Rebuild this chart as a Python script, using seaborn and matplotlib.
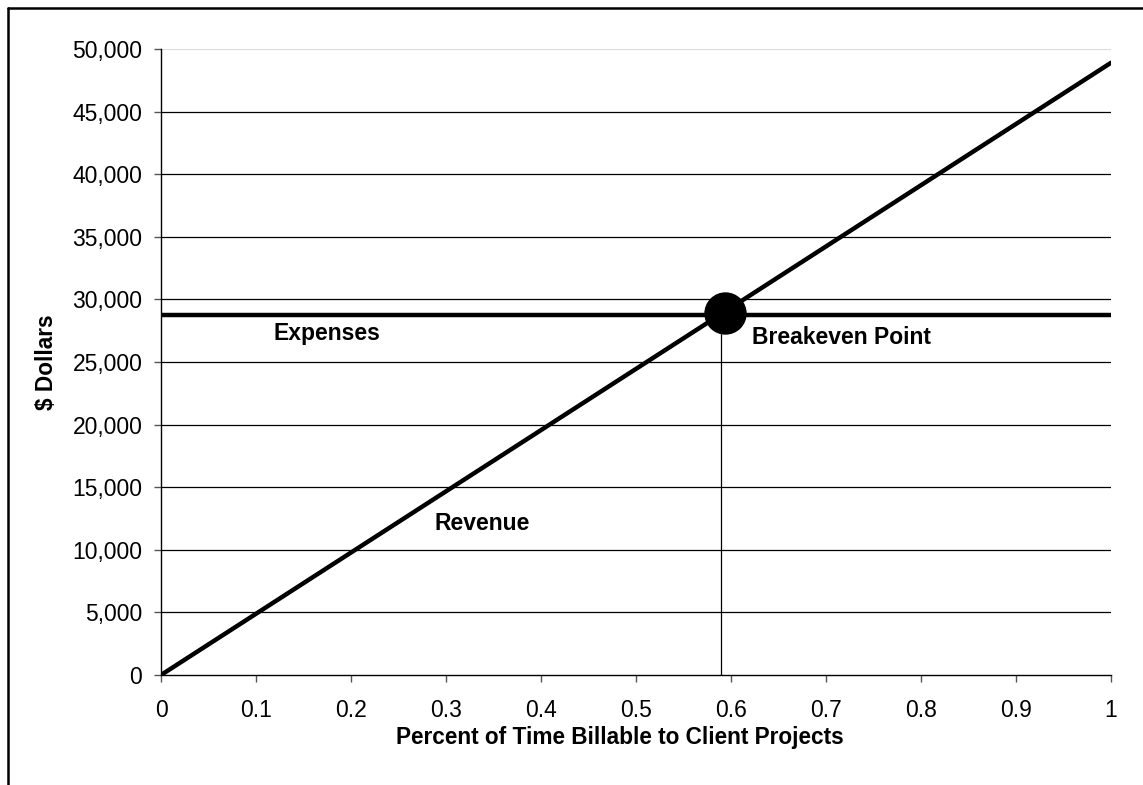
import matplotlib
matplotlib.use("Agg")
import matplotlib.pyplot as plt
import seaborn as sns
import numpy as np
import pandas as pd
from matplotlib.lines import Line2D
from matplotlib.ticker import FuncFormatter

# Data
pct_billable = [0.0, 1.0]
revenue = [0.0, 48900.0]
expenses_level = 28750.0
breakeven_x = 0.594
breakeven_y = 28900.0
dropline_x = 0.589
x_ticks = [0, 0.1, 0.2, 0.3, 0.4, 0.5, 0.6, 0.7, 0.8, 0.9, 1]
x_tick_labels = ["0", "0.1", "0.2", "0.3", "0.4", "0.5", "0.6", "0.7", "0.8", "0.9", "1"]
y_ticks = list(range(0, 50001, 5000))

sns.set_theme(style="white")
plt.rcParams['font.family'] = ['Liberation Sans', 'DejaVu Sans']
plt.rcParams['text.color'] = 'black'
plt.rcParams['axes.labelcolor'] = 'black'

fig = plt.figure(figsize=(11.43, 7.85), dpi=100)
ax = fig.add_axes([161/1143, 1-675/785, (1111-161)/1143, (675-49)/785])

# gridlines
for yv in y_ticks[1:]:
    ax.axhline(yv, color="#dddddd" if yv == 50000 else "black", lw=0.9, zorder=1)

df_rev = pd.DataFrame({"x": pct_billable, "y": revenue})
df_exp = pd.DataFrame({"x": pct_billable, "y": [expenses_level, expenses_level]})
sns.lineplot(data=df_rev, x="x", y="y", ax=ax, color="black", lw=3.2, zorder=3)
sns.lineplot(data=df_exp, x="x", y="y", ax=ax, color="black", lw=3.2, zorder=3)

# vertical drop line and breakeven marker
ax.plot([dropline_x, dropline_x], [0, breakeven_y], color="black", lw=0.9, zorder=2)
ax.plot([breakeven_x], [breakeven_y], marker="o", ms=29.5, color="black", zorder=4)

ax.set_xlim(0, 1)
ax.set_ylim(0, 50000)
ax.set_xticks(x_ticks)
ax.set_xticklabels(x_tick_labels)
ax.set_yticks(y_ticks)
ax.yaxis.set_major_formatter(FuncFormatter(lambda v, p: f"{int(v):,}"))
ax.tick_params(axis="both", which="major", length=5, width=1, color="#555555",
               direction="out", labelsize=16.5, labelcolor="black",
               bottom=True, left=True)
ax.tick_params(axis="x", pad=12.5)
ax.tick_params(axis="y", pad=8.5)
for s in ["top", "right"]:
    ax.spines[s].set_visible(False)
for s in ["left", "bottom"]:
    ax.spines[s].set_color("black")
    ax.spines[s].set_linewidth(1)

ax.set_xlabel("Percent of Time Billable to Client Projects", fontsize=16.3, fontweight="bold")
ax.xaxis.set_label_coords(0.483, -0.082)
ax.set_ylabel("$ Dollars", fontsize=16.3, fontweight="bold", labelpad=10)

ax.text(0.175, 27316, "Expenses", fontsize=16.5, fontweight="bold", ha="center", va="center")
ax.text(0.338, 12140, "Revenue", fontsize=16.5, fontweight="bold", ha="center", va="center")
ax.text(0.716, 26917, "Breakeven Point", fontsize=16.5, fontweight="bold", ha="center", va="center")

# figure frame (top and left edges)
fig.add_artist(Line2D([8/1143, 1], [1-8/785, 1-8/785], color="black", lw=1.8, transform=fig.transFigure))
fig.add_artist(Line2D([8/1143, 8/1143], [0, 1-8/785], color="black", lw=1.8, transform=fig.transFigure))

fig.savefig("out.png", dpi=100)
